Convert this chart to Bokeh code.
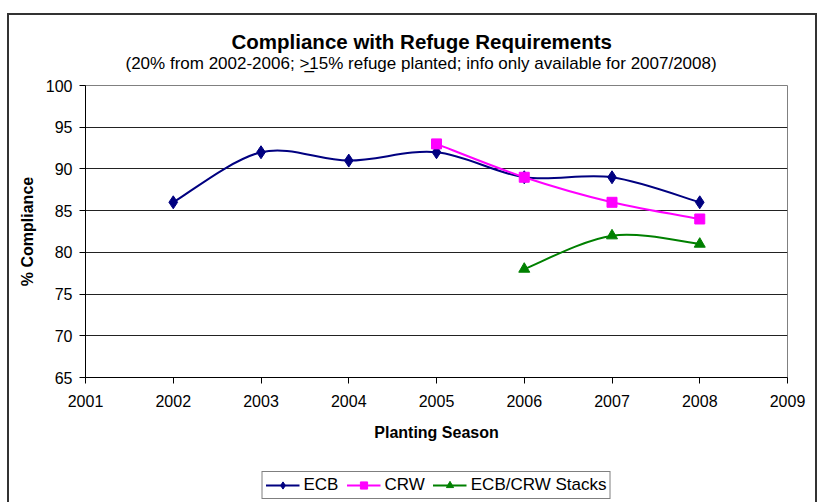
import numpy as np
from bokeh.plotting import figure
from bokeh.layouts import column
from bokeh.models import Title, Legend, LegendItem, Range1d, FixedTicker, ColumnDataSource
from bokeh.embed import file_html
from bokeh.resources import INLINE

# ---- data ----
ecb_years = [2002, 2003, 2004, 2005, 2006, 2007, 2008]
ecb_values = [86, 92, 91, 92, 89, 89, 86]
crw_years = [2005, 2006, 2007, 2008]
crw_values = [93, 89, 86, 84]
stack_years = [2006, 2007, 2008]
stack_values = [78, 82, 81]
x_ticks = [2001, 2002, 2003, 2004, 2005, 2006, 2007, 2008, 2009]
y_ticks = [65, 70, 75, 80, 85, 90, 95, 100]

TITLE = "Compliance with Refuge Requirements"
SUBTITLE = "(20% from 2002-2006; >\u033215% refuge planted; info only available for 2007/2008)"
FONT = "Liberation Sans"
C_ECB, C_CRW, C_STK = "#000080", "#FF00FF", "#008000"


def smooth_segments(xs, ys, k=1.0 / 6.0):
    """Excel-like smoothed line: cubic Bezier segments with Catmull-Rom control points."""
    n = len(xs)
    d = dict(x0=[], y0=[], x1=[], y1=[], cx0=[], cy0=[], cx1=[], cy1=[])
    for i in range(n - 1):
        a = max(i - 1, 0)
        b = min(i + 2, n - 1)
        d["x0"].append(xs[i]); d["y0"].append(ys[i])
        d["x1"].append(xs[i + 1]); d["y1"].append(ys[i + 1])
        d["cx0"].append(xs[i] + (xs[i + 1] - xs[a]) * k)
        d["cy0"].append(ys[i] + (ys[i + 1] - ys[a]) * k)
        d["cx1"].append(xs[i + 1] - (xs[b] - xs[i]) * k)
        d["cy1"].append(ys[i + 1] - (ys[b] - ys[i]) * k)
    return ColumnDataSource(d)


p = figure(width=806, height=445,
           x_range=Range1d(2001, 2009), y_range=Range1d(65, 100),
           output_backend="svg", toolbar_location=None,
           min_border_left=76, min_border_right=28,
           min_border_top=70, min_border_bottom=83)

p.background_fill_color = "white"
p.border_fill_color = "white"
p.outline_line_color = "#808080"
p.outline_line_width = 1

# grid
p.xgrid.grid_line_color = None
p.ygrid.grid_line_color = "#222222"
p.ygrid.grid_line_width = 1
p.ygrid.ticker = FixedTicker(ticks=y_ticks)

# axes
for ax in (p.xaxis[0], p.yaxis[0]):
    ax.axis_line_color = "black"
    ax.major_tick_line_color = "black"
    ax.major_tick_in = 0
    ax.major_tick_out = 6
    ax.minor_tick_line_color = None
    ax.major_label_text_font = FONT
    ax.major_label_text_font_size = "16px"
    ax.major_label_text_color = "black"
    ax.axis_label_text_font = FONT
    ax.axis_label_text_font_size = "16px"
    ax.axis_label_text_font_style = "bold"
    ax.axis_label_text_color = "black"

p.xaxis.ticker = FixedTicker(ticks=x_ticks)
p.yaxis.ticker = FixedTicker(ticks=y_ticks)
p.xaxis.axis_label = "Planting Season"
p.yaxis.axis_label = "% Compliance"
p.xaxis.major_label_standoff = 11
p.yaxis.major_label_standoff = 7
p.xaxis.axis_label_standoff = 14
p.yaxis.axis_label_standoff = 7

# titles
sub = Title(text=SUBTITLE, align="left", offset=40, text_font=FONT, text_font_size="17px",
            text_font_style="normal", text_color="black", standoff=25)
main = Title(text=TITLE, align="left", offset=146, text_font=FONT, text_font_size="20.5px",
             text_font_style="bold", text_color="black", standoff=-27)
p.add_layout(sub, "above")
p.add_layout(main, "above")

# series (smoothed lines + markers)
for xs, ys, col, mk, sz in ((ecb_years, ecb_values, C_ECB, "diamond", 13),
                            (crw_years, crw_values, C_CRW, "square", 10),
                            (stack_years, stack_values, C_STK, "triangle", 11)):
    p.bezier(x0="x0", y0="y0", x1="x1", y1="y1", cx0="cx0", cy0="cy0", cx1="cx1", cy1="cy1",
             source=smooth_segments(xs, ys), line_color=col, line_width=2)
    p.scatter(xs, ys, marker=mk, size=sz, color=col)

# ---- legend strip (separate small figure below the chart) ----
lg = figure(width=806, height=42, x_range=Range1d(0, 1), y_range=Range1d(0, 1),
            x_axis_type=None, y_axis_type=None,
            output_backend="svg", toolbar_location=None,
            min_border_left=70, min_border_right=0, min_border_top=7, min_border_bottom=0)
lg.outline_line_color = None
lg.background_fill_color = "white"
lg.border_fill_color = "white"
for g in lg.grid:
    g.visible = False

items = []
for name, xs, ys, col, mk in (("ECB", ecb_years, ecb_values, C_ECB, "diamond"),
                              ("CRW", crw_years, crw_values, C_CRW, "square"),
                              ("ECB/CRW Stacks", stack_years, stack_values, C_STK, "triangle")):
    # drawn outside this strip's visible range; used only for the legend swatches
    rl = lg.line(xs, ys, line_color=col, line_width=2)
    rm = lg.scatter(xs, ys, marker=mk, size=10, color=col)
    items.append(LegendItem(label=name, renderers=[rl, rm]))

legend = Legend(items=items, orientation="horizontal", location="center")
legend.border_line_color = "black"
legend.border_line_width = 1
legend.background_fill_color = "white"
legend.label_text_font = FONT
legend.label_text_font_size = "17px"
legend.label_text_color = "black"
legend.glyph_width = 34
legend.glyph_height = 18
legend.label_height = 18
legend.label_standoff = 4
legend.spacing = 8
legend.padding = 3
legend.margin = 0
lg.add_layout(legend, "center")

layout = column(p, lg, spacing=0,
                styles={"border-top": "2px solid #333333", "border-left": "2px solid #333333",
                        "border-right": "2px solid #333333", "margin-top": "13px",
                        "margin-left": "7px"})

open("out.html", "w").write(file_html(layout, INLINE))
